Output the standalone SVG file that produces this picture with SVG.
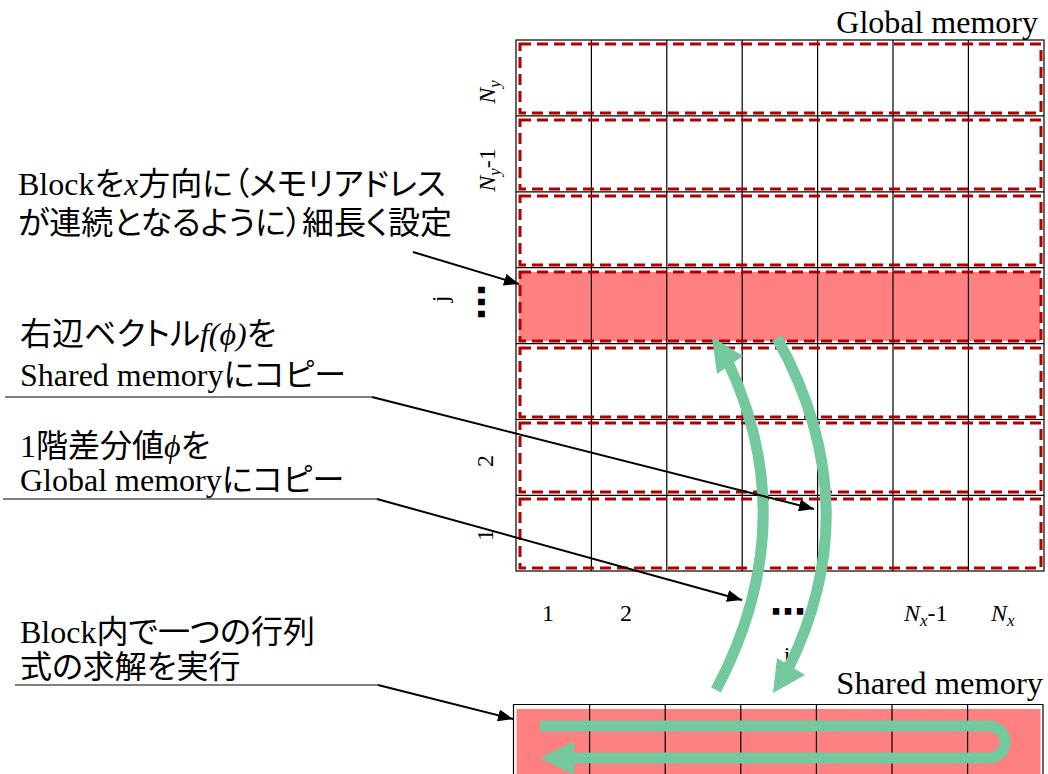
<svg xmlns="http://www.w3.org/2000/svg" width="1048" height="774" viewBox="0 0 1048 774">
<style>
.lat{font-family:"Liberation Serif","Times New Roman",serif;fill:#000}
.jp{font-family:"Liberation Serif","Noto Sans CJK JP",sans-serif;font-size:32px;fill:#000;font-feature-settings:"palt"}
.it{font-style:italic}
.dots{font-family:"DejaVu Sans",sans-serif;font-weight:bold;font-size:36px;fill:#000}
.grid{stroke:#000;stroke-width:1.2;fill:none}
.dash{stroke:#B00000;stroke-width:3;stroke-dasharray:11 6;fill:none}
.green{stroke:#73C89E;stroke-width:11;fill:none}
.gfill{fill:#73C89E}
.lead{stroke:#000;stroke-width:2;fill:none}
.under{stroke:#808080;stroke-width:2;fill:none}
.hl{fill:#FF8080}
</style>
<defs>
<marker id="ah" markerUnits="userSpaceOnUse" markerWidth="16" markerHeight="12" refX="15" refY="6" orient="auto">
<path d="M0,0 L15,6 L0,12 z" fill="#000"/>
</marker>
</defs>

<g id="global-memory">
<rect class="hl" x="519" y="272" width="521" height="69"/>
<rect class="grid" x="516" y="40" width="528" height="531"/>
<path class="grid" d="M591.4,40V571M666.8,40V571M742.2,40V571M817.6,40V571M893,40V571M968.4,40V571"/>
<path class="grid" d="M516,115.9H1044M516,191.8H1044M516,267.7H1044M516,343.6H1044M516,419.5H1044M516,495.4H1044"/>
<rect class="dash" x="520" y="44" width="521" height="69"/>
<rect class="dash" x="520" y="120" width="521" height="69"/>
<rect class="dash" x="520" y="196" width="521" height="69"/>
<rect class="dash" x="520" y="272" width="521" height="69"/>
<rect class="dash" x="520" y="348" width="521" height="69"/>
<rect class="dash" x="520" y="423" width="521" height="69"/>
<rect class="dash" x="520" y="499" width="521" height="69"/>
<text class="lat" x="1038" y="33" font-size="32" text-anchor="end">Global memory</text>
</g>

<g id="axis-labels">
<text class="lat" font-size="24" text-anchor="middle" transform="translate(495,92) rotate(-90)"><tspan class="it">N</tspan><tspan class="it" font-size="17" dy="5">y</tspan></text>
<text class="lat" font-size="24" text-anchor="middle" transform="translate(495,170) rotate(-90)"><tspan class="it">N</tspan><tspan class="it" font-size="17" dy="5">y</tspan><tspan dy="-5">-1</tspan></text>
<text class="lat" font-size="24" text-anchor="middle" transform="translate(448,299) rotate(-90)">j</text>
<text class="dots" text-anchor="middle" transform="translate(494,302) rotate(-90)">⋯</text>
<text class="lat" font-size="24" text-anchor="middle" transform="translate(493,461) rotate(-90)">2</text>
<text class="lat" font-size="24" text-anchor="middle" transform="translate(493,535) rotate(-90)">1</text>
<text class="lat" font-size="24" x="548" y="621" text-anchor="middle">1</text>
<text class="lat" font-size="24" x="626" y="621" text-anchor="middle">2</text>
<text class="dots" x="788" y="624" text-anchor="middle">⋯</text>
<text class="lat" font-size="24" x="904" y="621"><tspan class="it">N</tspan><tspan class="it" font-size="17" dy="5">x</tspan><tspan dy="-5">-1</tspan></text>
<text class="lat" font-size="24" x="991" y="621"><tspan class="it">N</tspan><tspan class="it" font-size="17" dy="5">x</tspan></text>
<text class="lat" font-size="24" x="787" y="663" text-anchor="middle">i</text>
</g>

<g id="shared-memory">
<rect class="hl" x="516.5" y="709" width="524" height="70"/>
<path class="grid" d="M513.5,780V704.5H1043V780"/>
<path class="grid" d="M589.6,704.5V774M665.2,704.5V774M740.8,704.5V774M816.4,704.5V774M892,704.5V774M967.6,704.5V774"/>
<path class="green" d="M540,726H989A16,16 0 0 1 989,758H571"/>
<polygon class="gfill" points="540,758 574,741 574,775"/>
<text class="lat" x="1043" y="694" font-size="32.5" text-anchor="end">Shared memory</text>
</g>

<g id="label-block">
<text class="jp" x="18" y="195">Block<tspan>を</tspan><tspan class="it">x</tspan><tspan>方向に（メモリアドレス</tspan></text>
<text class="jp" x="18" y="234">が連続となるように）細長く設定</text>
</g>
<g id="label-rhs">
<text class="jp" x="20" y="345">右辺ベクトル<tspan class="it">f</tspan><tspan class="it">(ϕ)</tspan>を</text>
<text class="jp" x="20" y="386">Shared memoryにコピー</text>
</g>
<g id="label-phi">
<text class="jp" x="20" y="457">1階差分値<tspan class="it">ϕ</tspan>を</text>
<text class="jp" x="20" y="491">Global memoryにコピー</text>
</g>
<g id="label-solve">
<text class="jp" x="20" y="643">Block内で一つの行列</text>
<text class="jp" x="20" y="678">式の求解を実行</text>
</g>

<g id="connectors">
<path class="green" d="M716,690Q804,524 728,362"/>
<polygon class="gfill" points="712,337 743,356 717,374"/>
<path class="green" d="M777,338Q869,504 789,667"/>
<polygon class="gfill" points="773,693 777,658 805,675"/>
<line class="lead" x1="413" y1="252" x2="519" y2="284" marker-end="url(#ah)"/>
<line class="under" x1="5" y1="397" x2="372" y2="397"/>
<line class="lead" x1="372" y1="397" x2="814" y2="509" marker-end="url(#ah)"/>
<line class="under" x1="3" y1="499" x2="377" y2="499"/>
<line class="lead" x1="377" y1="499" x2="742" y2="600" marker-end="url(#ah)"/>
<line class="under" x1="15" y1="685" x2="378" y2="685"/>
<line class="lead" x1="378" y1="685" x2="513" y2="719" marker-end="url(#ah)"/>
</g>
</svg>
